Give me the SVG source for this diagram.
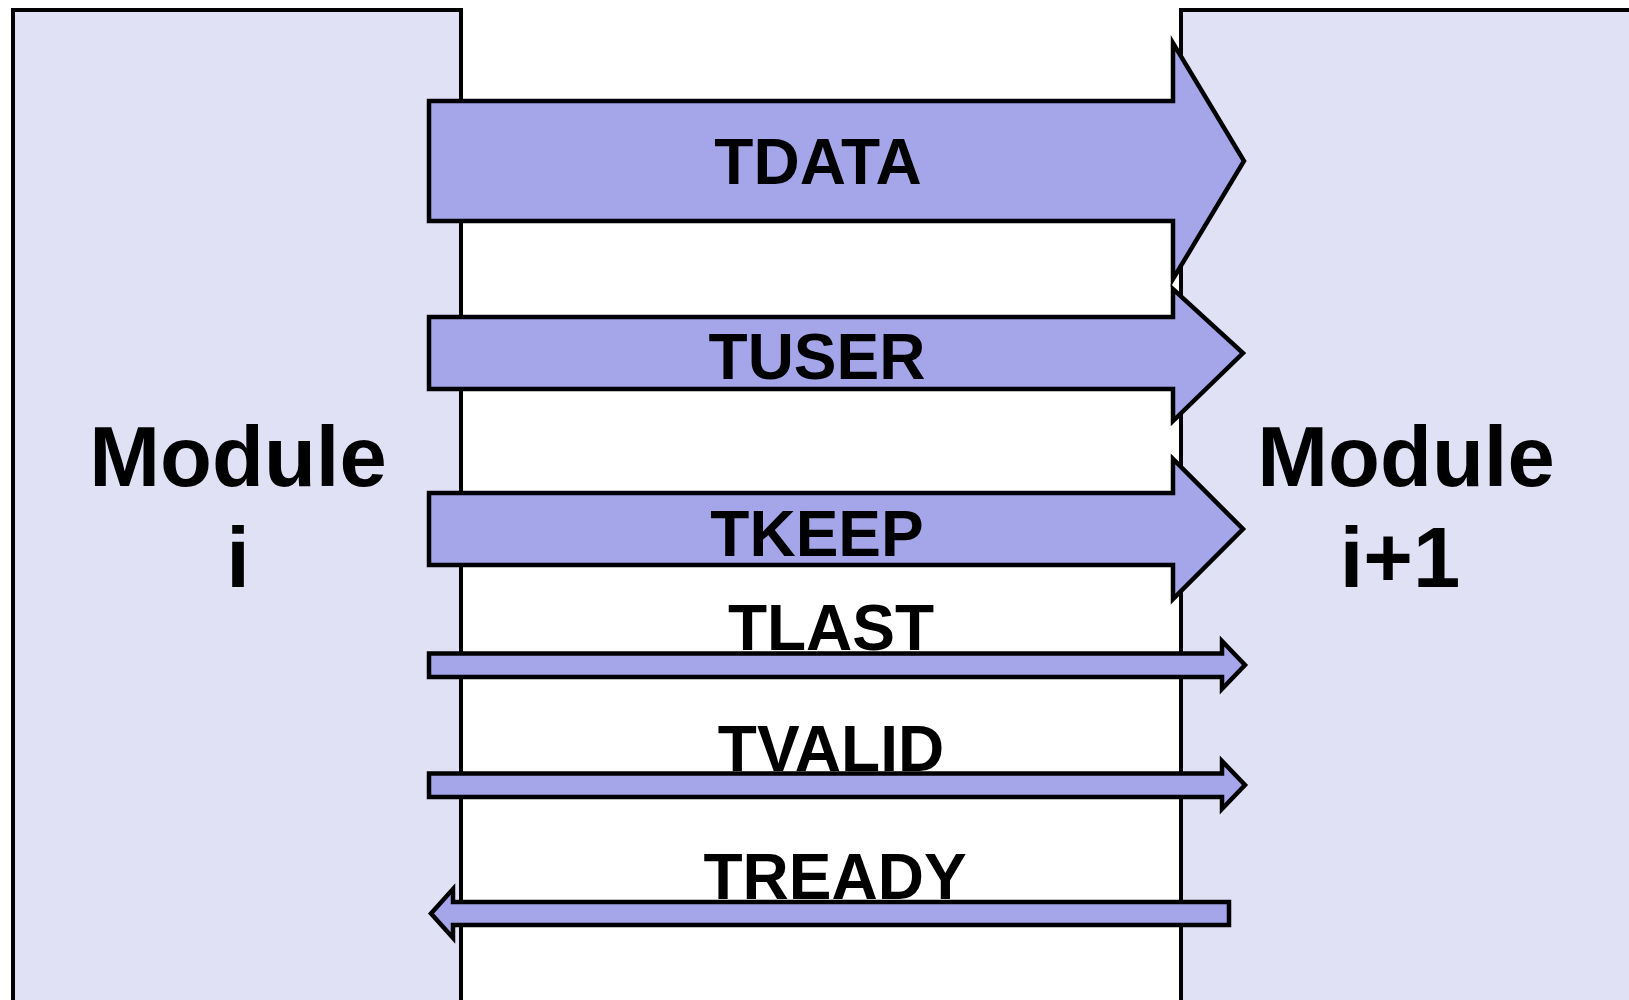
<svg xmlns="http://www.w3.org/2000/svg" width="1629" height="1000" viewBox="0 0 1629 1000">
  <style>
    .module { fill: #e1e1f6; stroke: #000; stroke-width: 4; }
    .bus { fill: #a5a6e9; stroke: #000; stroke-width: 4.5; stroke-linejoin: miter; }
    .sig { fill: #a5a6e9; stroke: #000; stroke-width: 4.5; stroke-linejoin: miter; }
    .title { font-family: "Liberation Sans", Arial, sans-serif; font-weight: bold; font-size: 85px; fill: #000; text-anchor: middle; }
    .label { font-family: "Liberation Sans", Arial, sans-serif; font-weight: bold; font-size: 64px; fill: #000; text-anchor: middle; }
  </style>

  <!-- upstream module -->
  <g id="module-i">
    <rect class="module" x="13" y="10" width="448" height="1000"/>
    <text class="title" x="238" y="486">Module</text>
    <text class="title" x="238" y="587">i</text>
  </g>

  <!-- downstream module -->
  <g id="module-i1">
    <rect class="module" x="1181" y="10" width="470" height="1000"/>
    <text class="title" x="1406" y="486">Module</text>
    <text class="title" x="1400" y="587">i+1</text>
  </g>

  <!-- AXI-Stream channels between the modules -->
  <g id="connectors">
    <g id="tdata">
      <polygon class="bus" points="429,101 1173,101 1173,43 1244,161 1173,279 1173,221 429,221"/>
      <text class="label" x="818" y="184">TDATA</text>
    </g>
    <g id="tuser">
      <polygon class="bus" points="429,317 1173,317 1173,289 1243,353 1173,421 1173,389 429,389"/>
      <text class="label" x="817" y="379">TUSER</text>
    </g>
    <g id="tkeep">
      <polygon class="bus" points="429,493 1173,493 1173,459 1243,529 1173,599 1173,565 429,565"/>
      <text class="label" x="817" y="556">TKEEP</text>
    </g>
    <g id="tlast">
      <polygon class="sig" points="429,653.5 1222,653.5 1222,641 1245,665 1222,689 1222,677 429,677"/>
      <text class="label" x="831" y="650">TLAST</text>
    </g>
    <g id="tvalid">
      <polygon class="sig" points="429,773.5 1222,773.5 1222,761 1245,785 1222,809 1222,797 429,797"/>
      <text class="label" x="831" y="771">TVALID</text>
    </g>
    <g id="tready">
      <polygon class="sig" points="1229,902 453,902 453,889 431,913.5 453,938 453,925 1229,925"/>
      <text class="label" x="835" y="899">TREADY</text>
    </g>
  </g>
</svg>
